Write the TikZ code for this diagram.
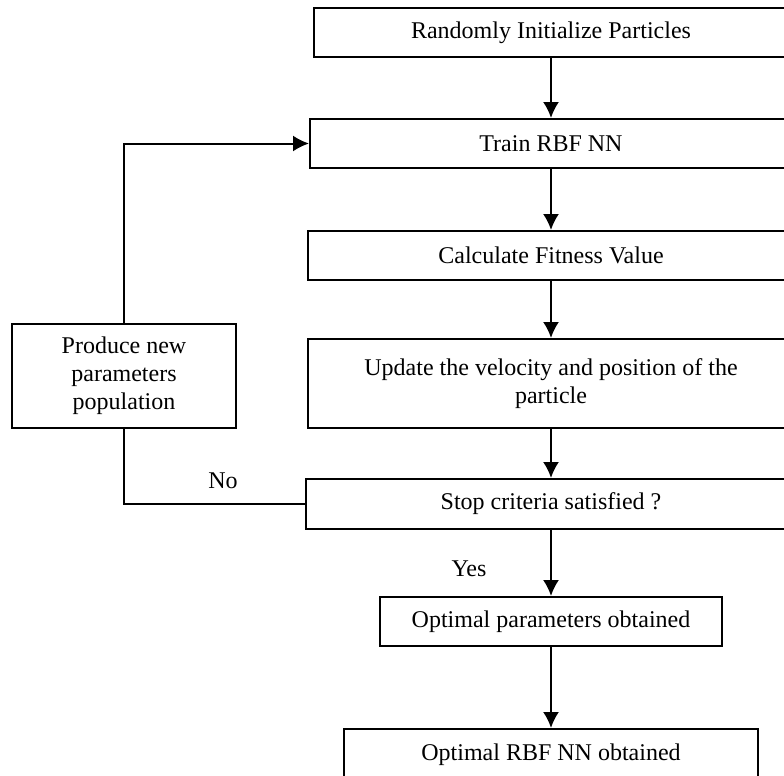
\documentclass[tikz,border=0pt]{standalone}
\usepackage{fontspec}
\setmainfont{Liberation Serif}
\usetikzlibrary{arrows.meta,positioning}
\tikzset{
  procbox/.style={
    rectangle, draw=black, line width=1pt,
    minimum width=#1, minimum height=24.5pt,
    font=\fontsize{12}{14}\selectfont, align=center,
    inner sep=3pt
  },
  procbox/.default=241pt,
  flowarrow/.style={
    -{Latex[length=8pt, width=8pt]}, line width=1pt
  },
  flowline/.style={line width=1pt},
  answerlabel/.style={
    font=\fontsize{12}{14}\selectfont, inner sep=0pt
  },
}

\begin{document}
\begin{tikzpicture}[x=0.5pt, y=-0.5pt, node distance=30pt]
  \useasboundingbox (0,0) rectangle (784,776);
  \clip (0,0) rectangle (784,776);
  % main column
  \node[procbox=237.5pt] at (551,32.5) (init) {Randomly Initialize Particles};
  \node[procbox=241pt, below=30pt of init] (train) {Train RBF NN};
  \node[procbox=243.5pt, below=30.5pt of train] (fitness) {Calculate Fitness Value};
  \node[procbox=243.5pt, minimum height=44.5pt, below=28.5pt of fitness] (update)
    {Update the velocity and position of the\\particle};
  \node[procbox=245pt, minimum height=25pt, below=24.5pt of update] (stop) {Stop criteria satisfied ?};
  \node[procbox=171pt, below=33pt of stop] (optpar) {Optimal parameters obtained};
  \node[procbox=207pt, minimum height=26pt, below=40.5pt of optpar] (optnn) {Optimal RBF NN obtained};
  % loop back
  \node[procbox=112pt, minimum height=52pt] at (124,376) (produce) {Produce new\\parameters\\population};
  \node[answerlabel] at (223,481) (no) {No};
  \node[answerlabel] at (469,569) (yes) {Yes};
  \draw[flowarrow] (init) -- (train);
  \draw[flowarrow] (train) -- (fitness);
  \draw[flowarrow] (fitness) -- (update);
  \draw[flowarrow] (update) -- (stop);
  \draw[flowarrow] (stop) -- (optpar);
  \draw[flowarrow] (optpar) -- (optnn);
  \draw[flowline] (stop.west) -| (produce.south);
  \draw[flowarrow] (produce.north) |- (train.west);
\end{tikzpicture}
\end{document}
